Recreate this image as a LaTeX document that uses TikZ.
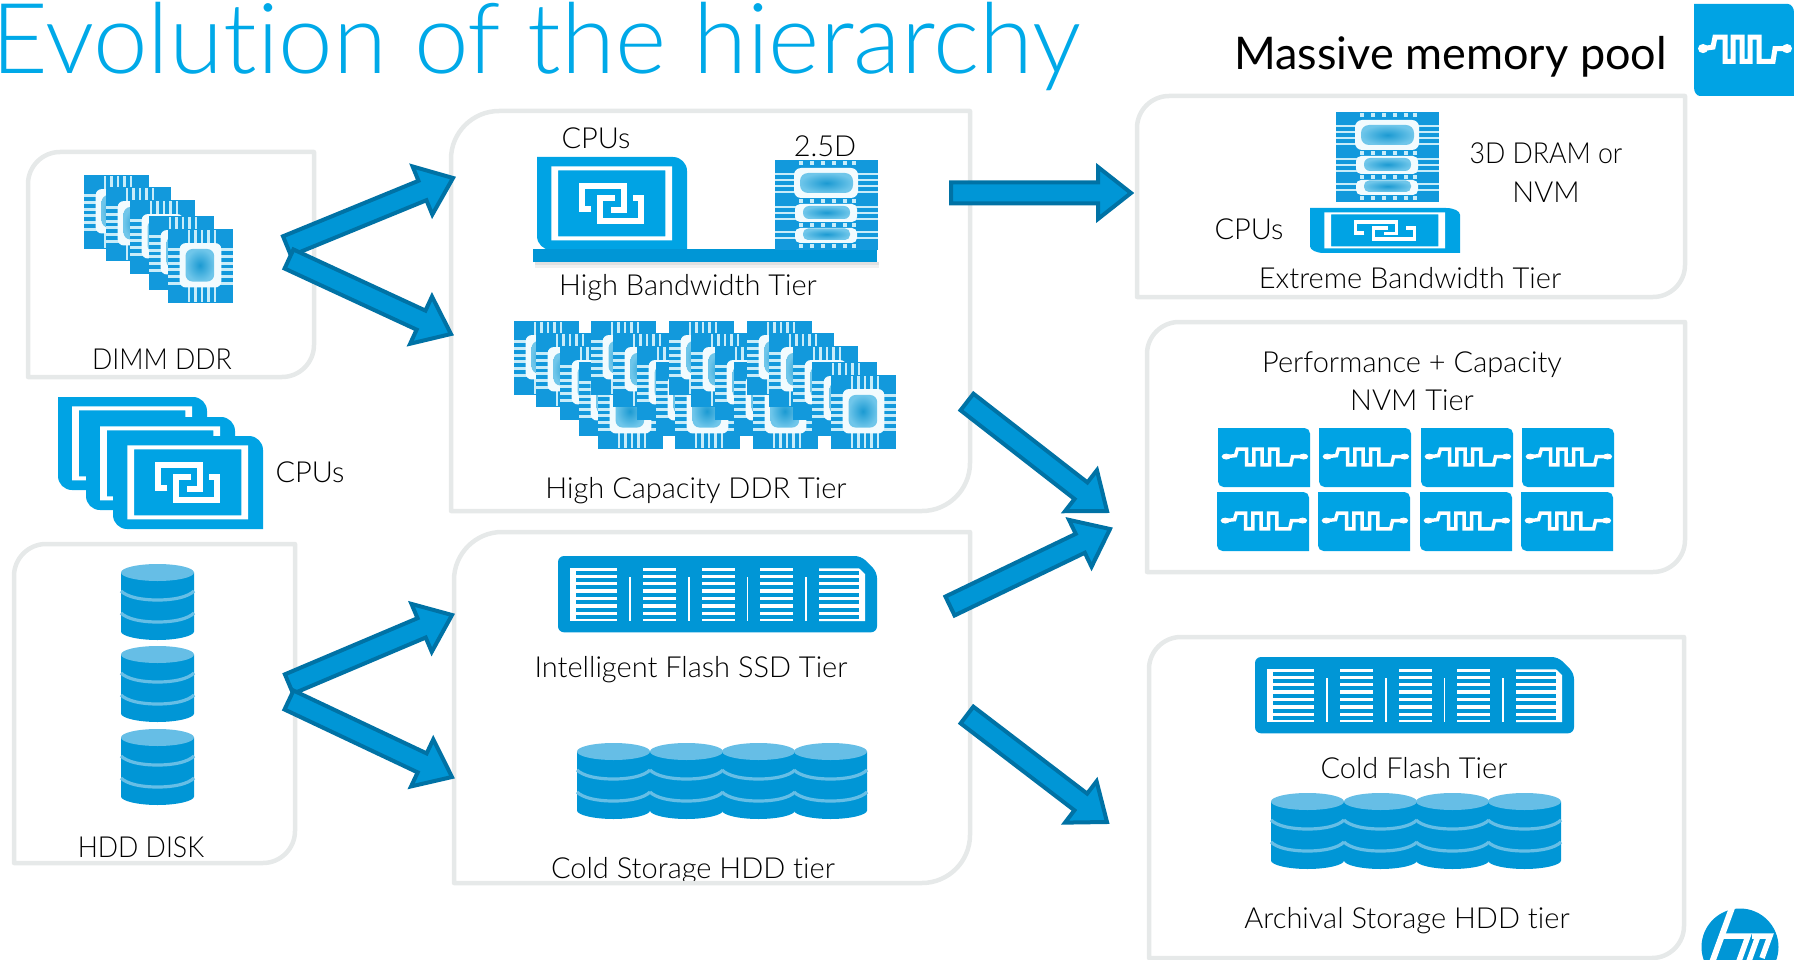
\documentclass[tikz,border=0pt]{standalone}
\usepackage{fontspec}
\usetikzlibrary{calc}
\setmainfont{Lato}[UprightFont=* Light,BoldFont=* Regular,Ligatures=NoCommon]
\definecolor{panelc}{HTML}{E6E9E9}
\definecolor{iconc}{HTML}{00A3E4}
\definecolor{hpb}{HTML}{0096D6}
\definecolor{arrowedge}{HTML}{0072A5}
\definecolor{chipb}{HTML}{1299DC}
\definecolor{chipc}{HTML}{1B9AD2}
\definecolor{pinc}{HTML}{C8ECF9}
\definecolor{ringc}{HTML}{F2FBFE}
\definecolor{glowc}{HTML}{6FC6EA}
\definecolor{lightb}{HTML}{66BEE6}
\definecolor{titlec}{HTML}{00A9E8}
\tikzset{
  x=1pt,y=-1pt,
  panel/.style={draw=panelc,line width=4.5pt,line join=round},
  blk/.style={draw=arrowedge,fill=hpb,line width=4pt,miter limit=10},
  lab/.style={font=\fontsize{29}{34}\selectfont,text=black,inner sep=0pt,anchor=center,align=center},
  labn/.style={lab,font=\fontsize{29}{34}\selectfont\addfontfeature{FakeStretch=0.92}},
  blob/.style={inner color=chipc,outer color=glowc},
}
% rounded top-left and bottom-right
\newcommand\panelpath[5]{(#1,#4) -- (#1,{#2+#5}) .. controls (#1,{#2+.45*#5}) and ({#1+.45*#5},#2) .. ({#1+#5},#2) -- (#3,#2) -- (#3,{#4-#5}) .. controls (#3,{#4-.45*#5}) and ({#3-.45*#5},#4) .. ({#3-#5},#4) -- cycle}
% rounded top-right and bottom-left
\newcommand\iconpath[5]{(#1,#2) -- ({#3-#5},#2) .. controls ({#3-.45*#5},#2) and (#3,{#2+.45*#5}) .. (#3,{#2+#5}) -- (#3,#4) -- ({#1+#5},#4) .. controls ({#1+.45*#5},#4) and (#1,{#4-.45*#5}) .. (#1,{#4-#5}) -- cycle}
% block arrow between two named coordinates
\newcommand\blockarrow[2]{%
  \coordinate (hb) at ($(#2)!33pt!(#1)$);
  \draw[blk] ($(#1)!10.5pt!90:(#2)$) -- ($(hb)!10.5pt!90:(#2)$) -- ($(hb)!26pt!90:(#2)$) -- (#2)
     -- ($(hb)!26pt!-90:(#2)$) -- ($(hb)!10.5pt!-90:(#2)$) -- ($(#1)!10.5pt!-90:(#2)$) -- cycle;}
% square chip, 65 x 74
\newcommand\chip[2]{\begin{scope}[shift={(#1,#2)},xscale=.65,yscale=.74]
  \fill[chipb] (0,0) rectangle (100,100);
  \foreach \k in {26,35,44,53,62,71}{\fill[pinc] (0,\k) rectangle (100,{\k+4});}
  \foreach \k in {30,40,50,60,70}{\fill[pinc] (\k,2) rectangle ({\k+4},98);}
  \fill[ringc,rounded corners=6pt] (18,19) rectangle (82,79);
  \shade[blob,rounded corners=7pt] (27,27) rectangle (71,71);
  \end{scope}}
\newcommand\chipgroup[2]{%
  \chip{#1}{#2}\chip{\the\numexpr#1+22}{\the\numexpr#2+12}\chip{\the\numexpr#1+46}{\the\numexpr#2+25}%
  \chip{\the\numexpr#1+65}{\the\numexpr#2+41}\chip{\the\numexpr#1+84}{\the\numexpr#2+54}}
% stacked chip, 103 x 90
\newcommand\stackchip[2]{\begin{scope}[shift={(#1,#2)}]
  \fill[chipb] (0,0) rectangle (103,90);
  \foreach \k in {13,19,25,31,46,52,58,71,77}{\fill[pinc] (0,\k) rectangle (103,{\k+1.8});}
  \foreach \y in {3.5,41,65,86}{\foreach \k in {24,35,46,57,68,77}{\fill[pinc] (\k,{\y-2}) rectangle ({\k+3.5},{\y+2});}}
  \fill[ringc,rounded corners=7pt] (19,8) rectangle (83,38);
  \fill[ringc,rounded corners=5pt] (20,44) rectangle (82,62);
  \fill[ringc,rounded corners=5pt] (20,68) rectangle (82,83);
  \shade[blob,rounded corners=8pt] (25,13) rectangle (78,33);
  \shade[blob,rounded corners=6pt] (28,46) rectangle (75,59);
  \shade[blob,rounded corners=5pt] (28,68.5) rectangle (75,80);
  \end{scope}}
% cpu icon, local unit box 150 x 93
\newcommand\cpu[5][6]{\begin{scope}[shift={(#2,#3)},xscale=#4/150,yscale=#5/93]
  \fill[iconc] \iconpath{0}{0}{150}{93}{14};
  \fill[white,even odd rule] (14.3,9.3) rectangle (135,83.3) (21,13.3) rectangle (128.3,79.3);
  \draw[white,line width=#1 pt,line cap=butt,line join=miter] (54.3,52) -- (45.3,52) -- (45.3,28.7) -- (86.7,28.7) -- (86.7,52.7) -- (74.3,52.7);
  \draw[white,line width=#1 pt,line cap=butt,line join=miter] (96,41) -- (104.3,41) -- (104.3,63.7) -- (63.3,63.7) -- (63.3,41) -- (77.6,41);
  \end{scope}}
% memory icon, local unit box 100 x 64
\newcommand\memicon[5][3.5]{\begin{scope}[shift={(#2,#3)},xscale=#4/100,yscale=#5/64]
  \fill[iconc] \iconpath{0}{0}{100}{64}{6};
  \draw[white,line width=#1 pt,line join=miter] (9,31) -- (19,30) -- (21,23) -- (31,23) -- (31,40) -- (39,40) -- (39,23) -- (48,23) -- (48,40) -- (56,40) -- (56,23) -- (65,23) -- (65,40) -- (79,40) -- (81,31) -- (93,31);
  \fill[white] (9,31) ellipse (5 and 3.2);
  \fill[white] (93,31) ellipse (5 and 3.2);
  \end{scope}}
% flash icon 320 x 76
\newcommand\flashpanel[3]{\fill[white] (#1,12.3) rectangle (#2,65);
  \foreach \k in {0,...,6}{\fill[hpb] (#3,{14.5+\k*7.4}) rectangle (#2,{18.5+\k*7.4});}}
\newcommand\flash[2]{\begin{scope}[shift={(#1,#2)}]
  \fill[hpb,rounded corners=6pt] (0,0) -- (303,0) -- (319,16) -- (319,76.3) -- (0,76.3) -- cycle;
  \flashpanel{12.3}{59}{17.7}
  \fill[white] (71,21) rectangle (72.5,65);
  \flashpanel{85}{118}{85}
  \fill[white] (130,21) rectangle (131.5,65);
  \flashpanel{144}{177}{144}
  \fill[white] (188.5,21) rectangle (190,65);
  \flashpanel{202}{235}{202}
  \fill[white] (247,21) rectangle (248.5,65);
  \fill[white] (261,12.3) -- (301,12.3) -- (307,18) -- (307,65) -- (261,65) -- cycle;
  \foreach \k in {0,...,6}{\fill[hpb] (261,{14.5+\k*7.4}) rectangle (301,{18.5+\k*7.4});}
  \end{scope}}
% disk cylinder 73 x 76
\newcommand\disk[2]{\begin{scope}[shift={(#1,#2)}]
  \fill[hpb] (0,8.5) -- (73,8.5) -- (73,67.5) .. controls (73,72) and (56,76) .. (36.5,76) .. controls (17,76) and (0,72) .. (0,67.5) -- cycle;
  \draw[lightb,line width=3.2pt] (0,27) .. controls (6,33) and (20,36) .. (36.5,36) .. controls (53,36) and (67,33) .. (73,27);
  \draw[lightb,line width=3.2pt] (0,49) .. controls (6,55) and (20,58) .. (36.5,58) .. controls (53,58) and (67,55) .. (73,49);
  \fill[lightb] (36.5,8.5) ellipse (36.5 and 8.5);
  \end{scope}}
\begin{document}
\begin{tikzpicture}
\useasboundingbox (0,0) rectangle (1794,960);
\clip (0,0) rectangle (1794,960);
% title
\node[anchor=base west,inner sep=0pt,text=titlec,font=\fontsize{98}{104}\selectfont] (title) at (-9,74) {Evolution of the hierarchy};
\node[anchor=base east,inner sep=0pt,text=black,font=\fontsize{45}{50}\bfseries] (pool) at (1667,70) {Massive memory pool};
\memicon[5]{1694}{4}{100}{92}
% clipped label under the panel edge
\begin{scope}
\clip (500,840) rectangle (900,881);
\node[lab] (csh) at (693,871) {Cold Storage HDD tier};
\end{scope}
% panels
\draw[panel] \panelpath{28}{152}{314}{377}{32};
\draw[panel] \panelpath{451}{111}{970}{511}{48};
\draw[panel] \panelpath{14}{544}{295}{863}{32};
\draw[panel] \panelpath{454}{532}{970}{883}{48};
\draw[panel] \panelpath{1137}{96}{1685}{297}{32};
\draw[panel] \panelpath{1147}{322}{1685}{572}{32};
\draw[panel] \panelpath{1149}{637}{1684}{958}{32};
% DIMM
\chipgroup{84}{175}
\node[labn] (dimm) at (162,359) {DIMM DDR};
% cpus
\cpu{58}{397}{149}{93}\cpu{86}{417}{149}{93}\cpu{113}{436}{150}{93}
\node[lab] (cpus1) at (310,472) {CPUs};
% high bandwidth
\node[lab] (cpus2) at (596,138) {CPUs};
\node[lab] (d25) at (825,146) {2.5D};
\cpu{537}{157}{150}{93}
\fill[black!12] (535,262) rectangle (879,265);
\fill[black!6] (535,265) rectangle (879,268);
\fill[hpb] (533,249) rectangle (877,262);
\stackchip{775}{160}
\node[lab] (hbt) at (688,288) {High Bandwidth Tier};
\chipgroup{514}{321}\chipgroup{591}{321}\chipgroup{669}{321}\chipgroup{747}{321}
\node[lab] (hcd) at (696,491) {High Capacity DDR Tier};
% hdd column
\disk{121}{564}\disk{121}{646}\disk{121}{729}
\node[labn] (hdd) at (141,847) {HDD DISK};
% flash + cold
\flash{558}{556}
\node[lab] (ifs) at (691,670) {Intelligent Flash SSD Tier};
\disk{577}{743}\disk{650}{743}\disk{722}{743}\disk{794}{743}
% extreme
\stackchip{1336}{112}
\cpu[3.5]{1310}{208}{150}{45}
\node[labn] (dram) at (1546,153) {3D DRAM or};
\node[lab] (nvm1) at (1546,192) {NVM};
\node[lab] (cpus3) at (1249,229) {CPUs};
\node[lab] (ebt) at (1410,278) {Extreme Bandwidth Tier};
% NVM
\node[lab] (perf) at (1412,365) {Performance + Capacity};
\node[lab] (nvmt) at (1412,400) {NVM Tier};
\foreach \x in {1218,1319,1421,1522}{\memicon{\x}{428}{92}{59}}
\foreach \x in {1217,1318,1420,1521}{\memicon{\x}{492}{92}{59}}
% cold
\flash{1255}{657}
\node[lab] (cft) at (1414,768) {Cold Flash Tier};
\disk{1271}{793}\disk{1344}{793}\disk{1416}{793}\disk{1488}{793}
\node[lab] (ash) at (1407,921) {Archival Storage HDD tier};
% arrows
\coordinate (a1s) at (287,246); \coordinate (a1e) at (453,178);
\coordinate (a2s) at (289,259); \coordinate (a2e) at (451,334);
\coordinate (a3s) at (951,193); \coordinate (a3e) at (1131,193);
\coordinate (a4s) at (967,402); \coordinate (a4e) at (1107,511);
\coordinate (a5s) at (950,606); \coordinate (a5e) at (1110,529);
\coordinate (a6s) at (967,715); \coordinate (a6e) at (1107,822);
\coordinate (a7s) at (289,684); \coordinate (a7e) at (452,615);
\coordinate (a8s) at (289,700); \coordinate (a8e) at (452,777);
\blockarrow{a1s}{a1e}\blockarrow{a2s}{a2e}\blockarrow{a3s}{a3e}\blockarrow{a4s}{a4e}
\blockarrow{a5s}{a5e}\blockarrow{a6s}{a6e}\blockarrow{a7s}{a7e}\blockarrow{a8s}{a8e}
% hp logo
\fill[hpb] (1740,947) circle (38.5);
\draw[white,line width=6pt] (1733,905) -- (1710,968);
\draw[white,line width=5.5pt] (1722,936) -- (1748,936) -- (1735,972);
\draw[white,line width=5.5pt] (1758,936) -- (1745,972);
\draw[white,line width=5.5pt] (1752,936) -- (1770,936) -- (1762,958);
\end{tikzpicture}
\end{document}
